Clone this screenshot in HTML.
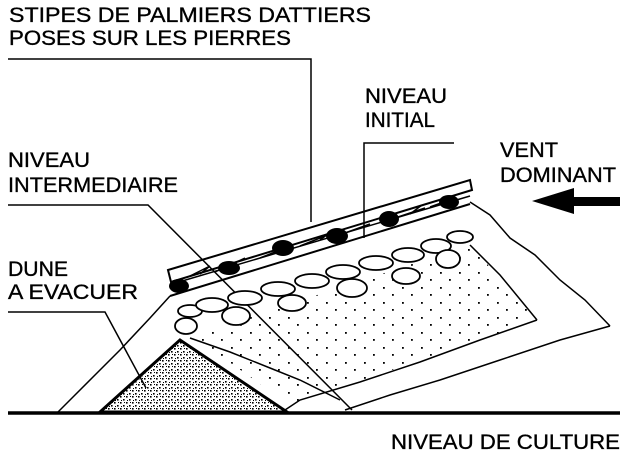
<!DOCTYPE html>
<html><head><meta charset="utf-8"><style>
html,body{margin:0;padding:0;background:#fff;}
svg{display:block}
text{font-family:"Liberation Sans",Arial,sans-serif;font-size:21px;fill:#000;stroke:#000;stroke-width:0.35}
</style></head><body>
<svg width="623" height="456" viewBox="0 0 623 456" xmlns="http://www.w3.org/2000/svg">
<defs>
<pattern id="dots" width="19" height="15" patternUnits="userSpaceOnUse">
<rect x="3" y="2" width="1.8" height="1.8" fill="#000"/><rect x="12" y="9" width="1.8" height="1.8" fill="#000"/>
</pattern>
<pattern id="sand" width="6" height="6" patternUnits="userSpaceOnUse">
<rect x="0" y="0" width="1.6" height="1.6" fill="#000"/><rect x="3" y="3" width="1.6" height="1.6" fill="#000"/><rect x="4" y="0" width="1" height="1" fill="#000"/><rect x="1" y="4" width="1" height="1" fill="#000"/>
</pattern>
</defs>
<text x="9" y="22" textLength="362" lengthAdjust="spacingAndGlyphs">STIPES DE PALMIERS DATTIERS</text>
<text x="9" y="45" textLength="282" lengthAdjust="spacingAndGlyphs">POSES SUR LES PIERRES</text>
<text x="365" y="103" textLength="82" lengthAdjust="spacingAndGlyphs">NIVEAU</text>
<text x="365" y="127" textLength="70" lengthAdjust="spacingAndGlyphs">INITIAL</text>
<text x="500" y="157" textLength="58" lengthAdjust="spacingAndGlyphs">VENT</text>
<text x="500" y="182" textLength="116" lengthAdjust="spacingAndGlyphs">DOMINANT</text>
<text x="8" y="167" textLength="82" lengthAdjust="spacingAndGlyphs">NIVEAU</text>
<text x="8" y="192" textLength="170" lengthAdjust="spacingAndGlyphs">INTERMEDIAIRE</text>
<text x="8" y="276" textLength="60" lengthAdjust="spacingAndGlyphs">DUNE</text>
<text x="8" y="299" textLength="130" lengthAdjust="spacingAndGlyphs">A EVACUER</text>
<text x="391" y="449" textLength="229" lengthAdjust="spacingAndGlyphs">NIVEAU DE CULTURE</text>

<path d="M195,335 L470,245 L537,320 L290,405 L215,352 Z" fill="url(#dots)" stroke="none"/>
<path d="M180,340 L100,412 L287,412 Z" fill="url(#sand)" stroke="#000" stroke-width="3"/>

<g fill="none" stroke="#000" stroke-width="1.5">
<path d="M8,59 H311 V222"/>
<path d="M454,143 H364 V238"/>
<path d="M8,205 H148 L352,410"/>
<path d="M8,312 H105 L146,388"/>
<path d="M170,296 L150,318 L120,350 L95,375 L75,395 L58,412"/>
<path d="M470,202 L490,215 L510,238 L535,255 L560,280 L585,300 L610,326"/>
<path d="M610,326 L560,340 L500,360 L440,380 L390,395 L345,410"/>
<path d="M470,245 L500,275 L537,320"/>
<path d="M537,320 L480,340 L420,362 L360,382 L300,400 L285,410"/>
<path d="M190,338 L230,352 L270,368 L300,380 L340,400"/>
<path d="M168,270 L470,180 L472,190 L171,282 Z" stroke-width="2"/>
<path d="M172,284 L470,196"/>
<path d="M170,296 L470,204" stroke-width="2"/>
<path d="M190,276 l20,-10 M215,272 l30,-14 M260,258 l25,-10 M300,246 l25,-10 M345,233 l25,-9 M395,218 l30,-10 M430,207 l25,-9 M200,274 l10,-8 M275,253 l12,-9 M320,240 l12,-9 M410,214 l12,-9"/>
</g>
<g fill="#000">
<ellipse cx="179" cy="286" rx="10" ry="7"/>
<ellipse cx="229" cy="268" rx="11" ry="7"/>
<ellipse cx="283" cy="248" rx="11" ry="8"/>
<ellipse cx="337" cy="236" rx="11" ry="8"/>
<ellipse cx="389" cy="219" rx="10" ry="8"/>
<ellipse cx="449" cy="202" rx="10" ry="7"/>
</g>
<g fill="#fff" stroke="#000" stroke-width="1.8">
<ellipse cx="186" cy="326" rx="11" ry="8"/>
<ellipse cx="190" cy="311" rx="12" ry="6"/>
<ellipse cx="212" cy="305" rx="16" ry="7"/>
<ellipse cx="236" cy="316" rx="14" ry="9"/>
<ellipse cx="245" cy="298" rx="17" ry="7"/>
<ellipse cx="278" cy="289" rx="17" ry="7"/>
<ellipse cx="292" cy="303" rx="14" ry="8"/>
<ellipse cx="312" cy="281" rx="17" ry="7"/>
<ellipse cx="343" cy="272" rx="17" ry="7"/>
<ellipse cx="352" cy="288" rx="15" ry="9"/>
<ellipse cx="376" cy="263" rx="17" ry="7"/>
<ellipse cx="406" cy="276" rx="14" ry="8"/>
<ellipse cx="408" cy="255" rx="16" ry="7"/>
<ellipse cx="436" cy="246" rx="15" ry="7"/>
<ellipse cx="448" cy="259" rx="12" ry="9"/>
<ellipse cx="460" cy="237" rx="13" ry="6"/>
</g>
<path d="M8,413 H620" stroke="#000" stroke-width="3.5"/>
<path d="M574,197 H620 V206 H574 V214 L532,201 L574,188 Z" fill="#000"/>
</svg>
</body></html>
